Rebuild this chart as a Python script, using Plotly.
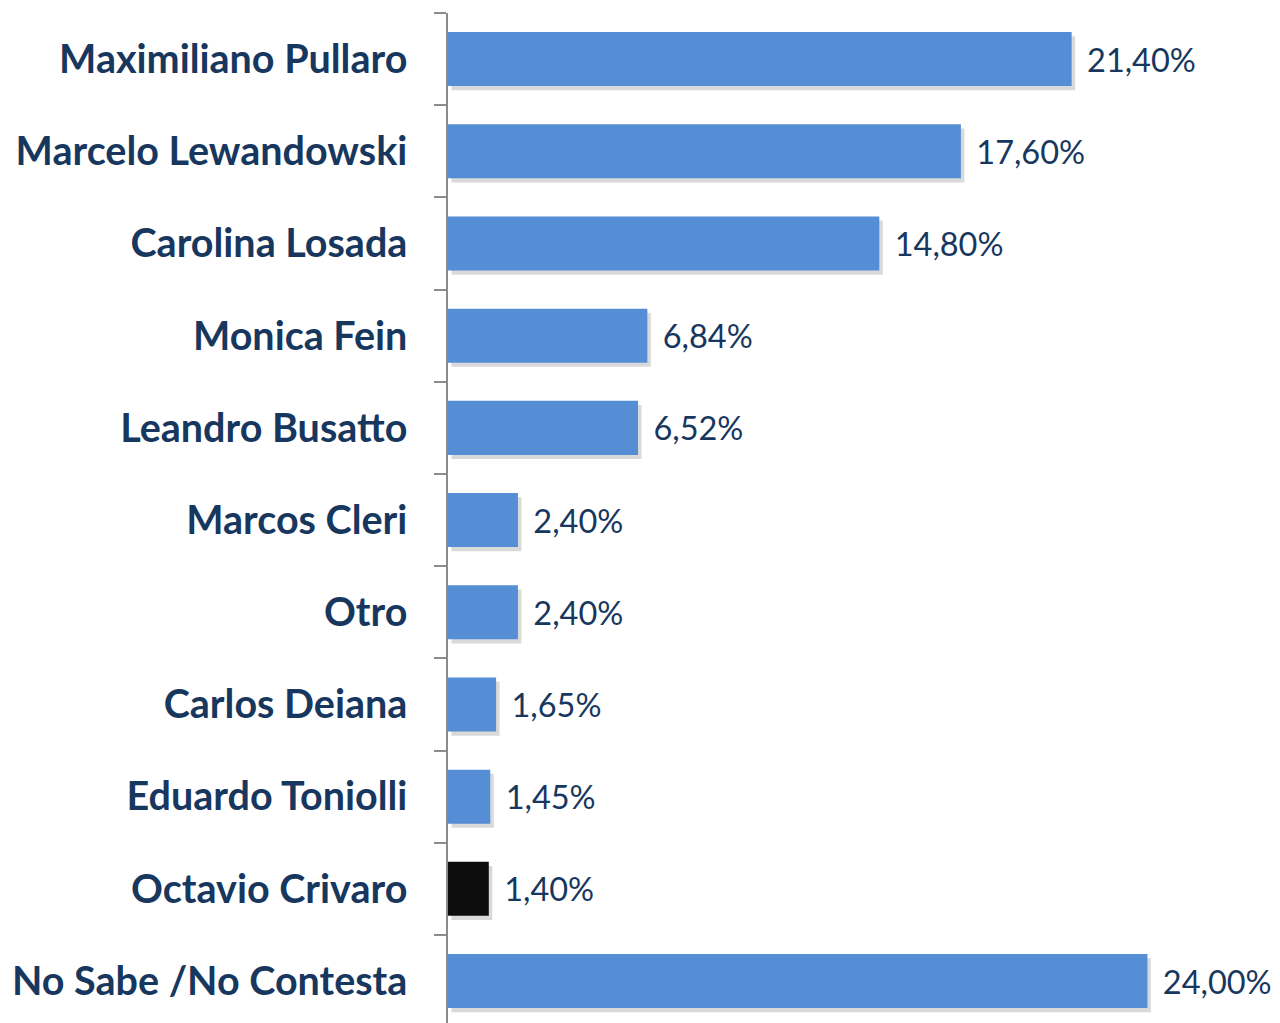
import plotly.graph_objects as go

categories = ["Maximiliano Pullaro", "Marcelo Lewandowski", "Carolina Losada", "Monica Fein",
              "Leandro Busatto", "Marcos Cleri", "Otro", "Carlos Deiana", "Eduardo Toniolli",
              "Octavio Crivaro", "No Sabe /No Contesta"]
values = [21.40, 17.60, 14.80, 6.84, 6.52, 2.40, 2.40, 1.65, 1.45, 1.40, 24.00]
labels = ["21,40%", "17,60%", "14,80%", "6,84%", "6,52%", "2,40%", "2,40%", "1,65%", "1,45%", "1,40%", "24,00%"]

BLUE = "#558ED5"
BLACK = "#0D0D0D"
NAVY = "#17375E"
colors = [BLACK if c == "Octavio Crivaro" else BLUE for c in categories]

fig = go.Figure()
# soft drop shadow
fig.add_trace(go.Bar(
    y=categories, x=values, base=0.12, orientation="h",
    width=0.586, offset=-0.293 + 0.045,
    marker=dict(color="rgba(0,0,0,0.15)", line=dict(width=0)),
    hoverinfo="skip", showlegend=False,
))
fig.add_trace(go.Bar(
    y=categories, x=values, orientation="h",
    width=0.586, offset=-0.293,
    marker=dict(color=colors, line=dict(width=0)),
    text=[" \u2009" + l for l in labels], textposition="outside",
    textfont=dict(family="Lato, Carlito, sans-serif", size=32.5, color=NAVY),
    cliponaxis=False, showlegend=False,
))

fig.update_layout(
    width=1272, height=1015,
    margin=dict(l=440, r=16, t=5, b=0, autoexpand=False),
    paper_bgcolor="white", plot_bgcolor="white",
    barmode="overlay",
    xaxis=dict(range=[0, 28], visible=False, fixedrange=True),
    yaxis=dict(
        type="category", range=[10.455, -0.5], automargin=False,
        showline=True, linecolor="#8C8C8C", linewidth=1.5,
        ticks="outside", tickson="boundaries", ticklen=12, tickcolor="#8C8C8C", tickwidth=1.5,
        tickfont=dict(family="Lato, Carlito, sans-serif", size=39.5, color=NAVY, weight="bold"),
        ticklabelstandoff=31,
        showgrid=False, zeroline=False,
    ),
)

fig.write_html("out.html")
